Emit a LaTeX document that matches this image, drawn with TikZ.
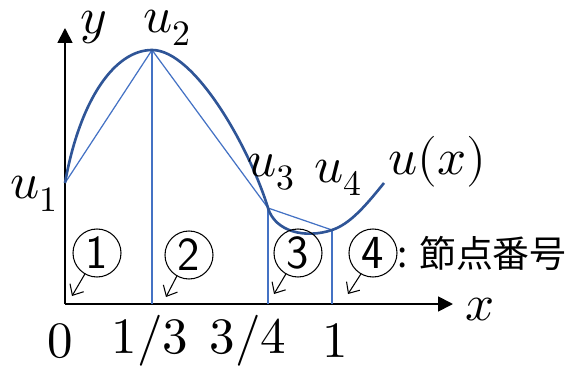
\documentclass[tikz,border=0pt]{standalone}
\usepackage{fontspec}
\usepackage{unicode-math}
\setmathfont{Latin Modern Math}
\newfontfamily\jpfont{Noto Sans CJK JP}
\usetikzlibrary{arrows.meta,positioning}
\definecolor{curveblue}{HTML}{2F5597}
\definecolor{lineblue}{HTML}{4472C4}
\tikzset{
  axis/.style={line width=1pt, -{Triangle[length=8.5pt,width=8.5pt]}},
  chord/.style={lineblue, line width=0.7pt},
  lbl/.style={inner sep=1pt, font=\fontsize{29}{32}\selectfont},
  nodenum/.style={draw, circle, line width=0.6pt, minimum size=0.96cm, inner sep=0pt,
    font=\sffamily\fontsize{27}{28}\selectfont},
  pointer/.style={line width=0.6pt, -{Straight Barb[length=5pt,width=9pt]}},
}
\begin{document}
\begin{tikzpicture}
\useasboundingbox (-1.3,-1.22) rectangle (10.1,6.08);
% axes
\coordinate (o) at (0,0);
\coordinate (xend) at (7.76,0);
\coordinate (yend) at (0,5.52);
\draw[axis] (o) -- (xend);
\draw[axis] (o) -- (yend);
\node[lbl] (xlbl) at (8.3,-0.12) {$x$};
\node[lbl] (ylbl) at (0.58,5.54) {$y$};
% nodal values
\coordinate (u1) at (0,2.42);
\coordinate (u2) at (1.74,5.08);
\coordinate (u3) at (4.06,1.92);
\coordinate (u4) at (5.34,1.48);
\coordinate (uend) at (6.38,2.42);
\draw[chord] (u1) -- (u2) -- (u3) -- (u4);
\draw[chord] (u2) -- (u2 |- o);
\draw[chord] (u3) -- (u3 |- o);
\draw[chord] (u4) -- (u4 |- o);
% exact solution
\draw[curveblue, line width=1.5pt] (u1) .. controls (0.3,4.1) and (1.0,5.08) .. (u2)
  .. controls (2.6,5.08) and (3.7,3.1) .. (u3)
  .. controls (4.2,1.45) and (4.8,1.30) .. (u4)
  .. controls (5.7,1.60) and (6.0,1.95) .. (uend);
\node[lbl] (l1) at (-0.62,2.2) {$u_1$};
\node[lbl] (l2) at (2.04,5.52) {$u_2$};
\node[lbl] (l3) at (4.12,2.64) {$u_3$};
\node[lbl] (l4) at (5.46,2.52) {$u_4$};
\node[lbl] (lu) at (7.44,2.84) {$u(x)$};
% ticks
\node[lbl] (t0) at (-0.1,-0.74) {$0$};
\node[lbl] (t1) at (1.7,-0.74) {$1/3$};
\node[lbl] (t2) at (3.66,-0.74) {$3/4$};
\node[lbl] (t3) at (5.4,-0.74) {$1$};
% node numbers
\node[nodenum] (n1) at (0.64,1.02) {1};
\node[nodenum] (n2) at (2.48,0.98) {2};
\node[nodenum] (n3) at (4.66,1.02) {3};
\node[nodenum] (n4) at (6.16,1.02) {4};
\node[right=0pt of n4, inner sep=0pt, font=\jpfont\fontsize{21}{24}\selectfont] (key) {: 節点番号};
\coordinate (p1) at (0.14,0.16);
\coordinate (p2) at (2.02,0.14);
\coordinate (p3) at (4.18,0.2);
\coordinate (p4) at (5.66,0.2);
\draw[pointer] (n1.240) -- (p1);
\draw[pointer] (n2.240) -- (p2);
\draw[pointer] (n3.240) -- (p3);
\draw[pointer] (n4.240) -- (p4);
\end{tikzpicture}
\end{document}
